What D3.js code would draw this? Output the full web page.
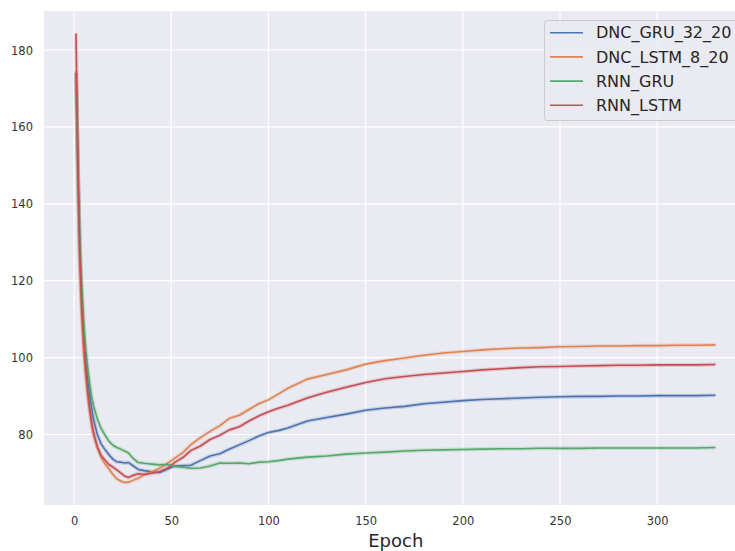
<!DOCTYPE html>
<html>
<head>
<meta charset="utf-8">
<script src="https://cdn.jsdelivr.net/npm/d3@7/dist/d3.min.js"></script>
<style>
  html, body { margin: 0; padding: 0; background: #ffffff; }
  svg { display: block; font-family: "DejaVu Sans", sans-serif; }
</style>
</head>
<body>
<svg id="chart" width="735" height="551"></svg>
<script>
// Epochs at which the validation loss of each model is recorded
const epochs = [1,2,3,4,5,6,7,8,9,10,12,14,16,18,20,22,24,26,28,30,33,36,40,44,48,52,56,60,65,70,75,80,85,90,95,100,105,110,120,130,140,150,160,170,180,190,200,210,220,230,240,250,260,270,280,290,300,310,320,330];

const seriesNames = ["DNC_GRU_32_20", "DNC_LSTM_8_20", "RNN_GRU", "RNN_LSTM"];

const dncGru = [174,148,127,115,106,99.5,94.5,90.5,87,84,80,77.5,76.0,74.7,73.6,72.9,72.8,72.6,72.7,72.0,70.9,70.6,70.3,70.1,71.0,71.8,71.9,72.0,73.2,74.4,75.0,76.2,77.3,78.4,79.6,80.5,81.0,81.7,83.5,84.4,85.3,86.3,86.9,87.3,88.0,88.4,88.8,89.1,89.3,89.5,89.7,89.8,89.9,89.9,90.0,90.0,90.1,90.1,90.1,90.2];

const dncLstm = [174.5,146,124,110,101,95,90,86,82.5,80,76.5,74,72.3,71,69.6,68.5,67.9,67.5,67.6,68.0,68.6,69.5,70.3,71.2,72.5,73.9,75.3,77.3,79.2,80.8,82.3,84.2,85.0,86.5,88.0,89.0,90.5,92.0,94.4,95.6,96.8,98.3,99.2,99.9,100.6,101.2,101.6,102.0,102.3,102.5,102.6,102.8,102.9,103.0,103.0,103.1,103.1,103.2,103.2,103.3];

const rnnGru = [174,150,130,118,109,102.5,97.5,93.5,90,87.5,84,81.5,79.8,78.2,77.2,76.6,76.2,75.7,75.2,74.0,72.7,72.5,72.3,72.1,72.2,71.7,71.5,71.2,71.3,71.8,72.6,72.5,72.6,72.4,72.8,72.9,73.2,73.6,74.1,74.4,74.9,75.2,75.4,75.7,75.9,76.0,76.1,76.2,76.3,76.3,76.4,76.4,76.4,76.5,76.5,76.5,76.5,76.5,76.5,76.6];

const rnnLstm = [184.3,150,126,113,104,97,91.5,87,83.5,80.5,76.8,74.5,73.3,72.2,71.5,70.8,70.0,69.2,68.8,69.3,69.8,69.6,69.9,70.3,71.2,72.8,74.0,75.8,77.0,78.7,79.8,81.2,82.0,83.5,84.8,85.9,86.8,87.6,89.5,91.0,92.3,93.5,94.5,95.1,95.6,96.0,96.4,96.8,97.1,97.4,97.6,97.7,97.8,97.9,98.0,98.0,98.1,98.1,98.1,98.2];

const xTicks = [0, 50, 100, 150, 200, 250, 300];
const yTicks = [80, 100, 120, 140, 160, 180];
const xLabel = "Epoch";

const seriesValues = [dncGru, dncLstm, rnnGru, rnnLstm];
const colors = ["#4c72b0", "#dd8452", "#55a868", "#c44e52"];

const svg = d3.select("#chart");
const plot = { left: 44, top: 11, right: 747.5, bottom: 505 };

// Axis limits with a 5% margin around the data range
const xMin = d3.min(epochs), xMax = d3.max(epochs);
const allVals = seriesValues.flat();
const yMin = d3.min(allVals), yMax = d3.max(allVals);
const xPad = (xMax - xMin) * 0.05, yPad = (yMax - yMin) * 0.05;

const x = d3.scaleLinear().domain([xMin - xPad, xMax + xPad]).range([plot.left, plot.right]);
const y = d3.scaleLinear().domain([yMin - yPad, yMax + yPad]).range([plot.bottom, plot.top]);

const defs = svg.append("defs");
defs.append("clipPath").attr("id", "plotClip")
  .append("rect")
  .attr("x", plot.left).attr("y", plot.top)
  .attr("width", plot.right - plot.left).attr("height", plot.bottom - plot.top);

// Plot background
svg.append("rect")
  .attr("x", plot.left).attr("y", plot.top)
  .attr("width", plot.right - plot.left).attr("height", plot.bottom - plot.top)
  .attr("fill", "#eaeaf2");

// Grid lines
const grid = svg.append("g").attr("clip-path", "url(#plotClip)");
grid.selectAll(".vgrid").data(xTicks).join("line")
  .attr("x1", d => x(d)).attr("x2", d => x(d))
  .attr("y1", plot.top).attr("y2", plot.bottom)
  .attr("stroke", "#ffffff").attr("stroke-width", 1.2);
grid.selectAll(".hgrid").data(yTicks).join("line")
  .attr("x1", plot.left).attr("x2", plot.right)
  .attr("y1", d => y(d)).attr("y2", d => y(d))
  .attr("stroke", "#ffffff").attr("stroke-width", 1.2);

// Axes (tick labels only, seaborn darkgrid style)
const xAxis = d3.axisBottom(x).tickValues(xTicks).tickSize(0).tickPadding(0);
const yAxis = d3.axisLeft(y).tickValues(yTicks).tickSize(0).tickPadding(0);

const gx = svg.append("g").attr("transform", `translate(0,${plot.bottom})`).call(xAxis);
gx.select(".domain").remove();
gx.selectAll("text")
  .attr("y", 12).attr("dy", "0.71em")
  .attr("font-size", 11.5).attr("fill", "#333333")
  .attr("font-family", "DejaVu Sans, sans-serif");

const gy = svg.append("g").attr("transform", `translate(${plot.left},0)`).call(yAxis);
gy.select(".domain").remove();
gy.selectAll("text")
  .attr("x", -11).attr("dy", "0.35em")
  .attr("font-size", 11.5).attr("fill", "#333333")
  .attr("font-family", "DejaVu Sans, sans-serif");

// x axis title
svg.append("text")
  .attr("x", (plot.left + plot.right) / 2).attr("y", 547)
  .attr("text-anchor", "middle")
  .attr("font-size", 18).attr("fill", "#262626")
  .text(xLabel);

// Loss curves: soft halo for the run spread, then the mean line
const line = d3.line()
  .x((d, i) => x(epochs[i]))
  .y(d => y(d))
  .curve(d3.curveLinear);

const lines = svg.append("g").attr("clip-path", "url(#plotClip)");
seriesValues.forEach((vals, k) => {
  lines.append("path")
    .datum(vals)
    .attr("d", line)
    .attr("fill", "none")
    .attr("stroke", colors[k])
    .attr("stroke-opacity", 0.22)
    .attr("stroke-width", 4)
    .attr("stroke-linejoin", "round");
});
seriesValues.forEach((vals, k) => {
  lines.append("path")
    .datum(vals)
    .attr("d", line)
    .attr("fill", "none")
    .attr("stroke", colors[k])
    .attr("stroke-width", 1.6)
    .attr("stroke-linejoin", "round");
});

// Legend
const legend = svg.append("g");
legend.append("rect")
  .attr("x", 544.5).attr("y", 20.5)
  .attr("width", 200).attr("height", 100)
  .attr("rx", 3)
  .attr("fill", "#eaeaf2").attr("fill-opacity", 0.85)
  .attr("stroke", "#cccccc").attr("stroke-width", 1);

const rowY = [32.7, 56.9, 81.1, 105.3];
seriesNames.forEach((name, k) => {
  legend.append("line")
    .attr("x1", 550).attr("x2", 583)
    .attr("y1", rowY[k]).attr("y2", rowY[k])
    .attr("stroke", colors[k]).attr("stroke-width", 1.6);
  legend.append("text")
    .attr("x", 596).attr("y", rowY[k]).attr("dy", "0.35em")
    .attr("font-size", 16).attr("fill", "#262626")
    .text(name);
});
</script>
</body>
</html>
